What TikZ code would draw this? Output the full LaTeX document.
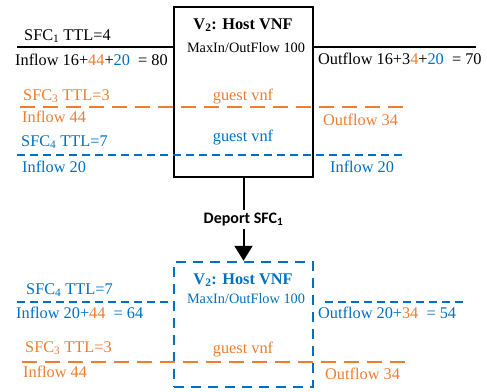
\documentclass[tikz,border=0pt]{standalone}
\usepackage{fontspec}
\setmainfont{Liberation Serif}
\newfontfamily\calibri{Carlito}
\usepackage{xcolor}
\usepackage{tikz}
\usetikzlibrary{arrows.meta}

\definecolor{sfcorange}{HTML}{ED7D31}
\definecolor{sfcblue}{HTML}{0070C0}

\begin{document}
\begin{tikzpicture}[x=1pt, y=-1pt,
  vnf/.style={draw, line width=2pt, minimum width=139pt, inner sep=0pt},
  lbl/.style={font=\fontsize{16.3}{18}\selectfont, inner sep=0pt, anchor=west},
  mid/.style={font=\fontsize{16.3}{18}\selectfont, inner sep=0pt},
  capline/.style={font=\fontsize{14.3}{16}\selectfont, inner sep=0pt},
  orflow/.style={sfcorange, line width=2.5pt, dash pattern=on 15pt off 8pt},
  blflow/.style={sfcblue, line width=2pt, dash pattern=on 8pt off 5pt},
  arr/.style={-{Triangle[width=18pt,length=15pt]}, line width=2pt}
]
  \useasboundingbox (0,0) rectangle (487,391);

  % Host VNF before deporting
  \node[vnf, minimum height=170pt] (host) at (243.5,92) {};
  \node[mid, font=\fontsize{16.3}{18}\selectfont\bfseries] (title) at (243,25) {V\textsubscript{2}: Host VNF};
  \node[capline] (maxflow) at (246,48) {MaxIn/OutFlow 100};
  \node[mid, sfcorange] (guest3) at (243,97) {guest vnf};
  \node[mid, sfcblue] (guest4) at (243,138) {guest vnf};

  % SFC1
  \coordinate (in1) at (17,47);
  \coordinate (out1) at (476,47);
  \draw[line width=1.5pt] (in1) -- (in1 -| host.west);
  \draw[line width=1.5pt] (host.east |- out1) -- (out1);
  \node[lbl] (sfc1) at (24,36) {SFC\textsubscript{1} TTL=4};
  \node[lbl] (inflow1) at (15,60) {Inflow 16+\textcolor{sfcorange}{44}+\textcolor{sfcblue}{20}~ = 80};
  \node[lbl] (outflow1) at (318,59) {Outflow 16+3\textcolor{sfcorange}{4}+\textcolor{sfcblue}{20}~ = 70};

  % SFC3
  \coordinate (in3) at (20,107);
  \coordinate (out3) at (404,107);
  \draw[orflow] (in3) -- (out3);
  \node[lbl, sfcorange] (sfc3) at (23,96) {SFC\textsubscript{3} TTL=3};
  \node[lbl, sfcorange] (inflow3) at (22,117) {Inflow 44};
  \node[lbl, sfcorange] (outflow3) at (323,120) {Outflow 34};

  % SFC4
  \coordinate (in4) at (17,155);
  \coordinate (out4) at (406,155);
  \draw[blflow] (in4) -- (out4);
  \node[lbl, sfcblue] (sfc4) at (21,142) {SFC\textsubscript{4} TTL=7};
  \node[lbl, sfcblue] (inflow4) at (22,167) {Inflow 20};
  \node[lbl, sfcblue] (outflow4) at (330,167) {Inflow 20};

  % Host VNF after deporting
  \node[vnf, sfcblue, line width=2.5pt, dash pattern=on 10pt off 7pt, minimum height=125pt] (host2) at (243.5,324.5) {};
  \draw[arr] (host.south) -- node[fill=white, inner sep=3pt, font=\calibri\fontsize{16}{18}\selectfont\bfseries] (deport) {Deport SFC\textsubscript{1}} (host2.north);
  \node[mid, sfcblue, font=\fontsize{16.3}{18}\selectfont\bfseries] (title2) at (243,280) {V\textsubscript{2}: Host VNF};
  \node[capline, sfcblue] (maxflow2) at (246,299) {MaxIn/OutFlow 100};
  \node[mid, sfcorange] (guest3b) at (243,350) {guest vnf};

  % SFC4 after
  \coordinate (in4b) at (17,302);
  \coordinate (out4b) at (325,302);
  \coordinate (end4b) at (467,302);
  \draw[blflow] (in4b) -- (in4b -| host2.west);
  \draw[blflow] (out4b) -- (end4b);
  \node[lbl, sfcblue] (sfc4b) at (26,290) {SFC\textsubscript{4} TTL=7};
  \node[lbl, sfcblue] (inflow4b) at (16,313) {Inflow 20+\textcolor{sfcorange}{44}~ = 64};
  \node[lbl, sfcblue] (outflow4b) at (318,313) {Outflow 20+\textcolor{sfcorange}{34}~ = 54};

  % SFC3 after
  \coordinate (in3b) at (22,362);
  \coordinate (out3b) at (405,362);
  \draw[orflow] (in3b) -- (out3b);
  \node[lbl, sfcorange] (sfc3b) at (25,348) {SFC\textsubscript{3} TTL=3};
  \node[lbl, sfcorange] (inflow3b) at (23,372) {Inflow 44};
  \node[lbl, sfcorange] (outflow3b) at (325,374) {Outflow 34};
\end{tikzpicture}
\end{document}
